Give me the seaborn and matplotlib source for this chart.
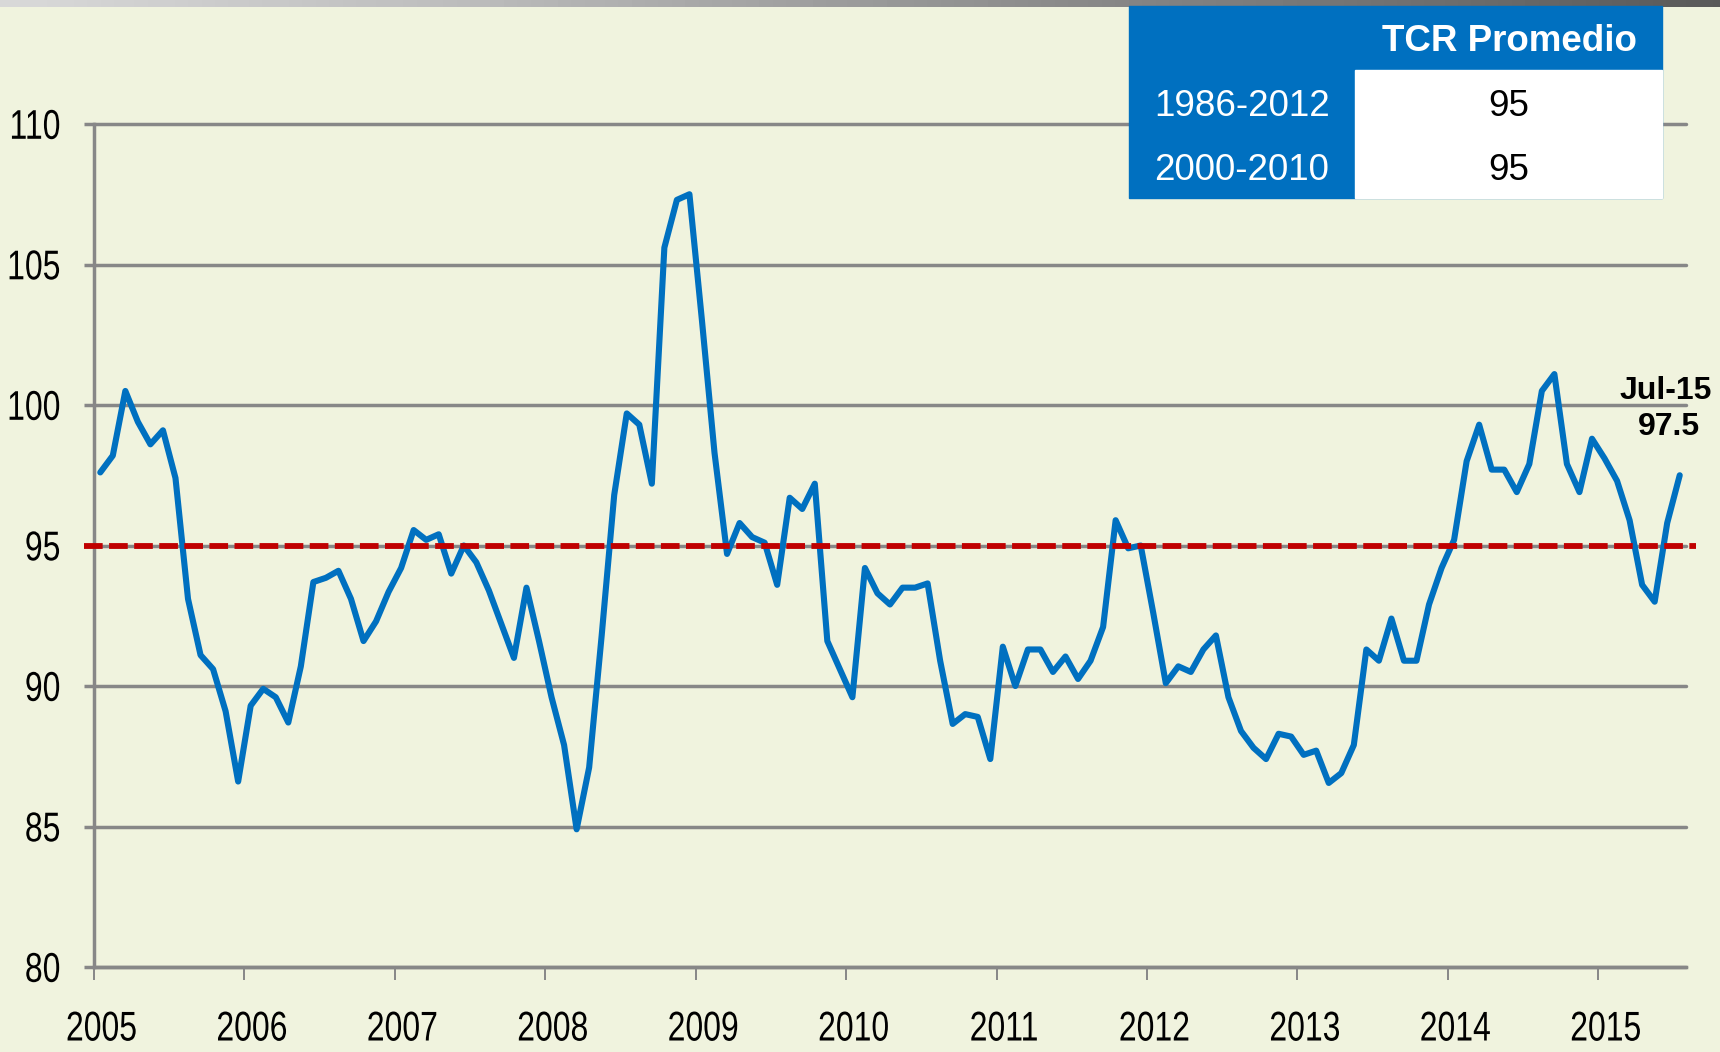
import numpy as np
import pandas as pd
import matplotlib
matplotlib.use("Agg")
import matplotlib.pyplot as plt
import seaborn as sns
from matplotlib.patches import Rectangle
from matplotlib.patheffects import AbstractPathEffect
from matplotlib.transforms import Affine2D

# TCR mensual, ene-2005 a jul-2015
tcr_2005 = [97.6, 98.2, 100.5, 99.4, 98.6, 99.1, 97.4, 93.1, 91.1, 90.6, 89.1, 86.6]
tcr_2006 = [89.3, 89.9, 89.6, 88.7, 90.7, 93.7, 93.85, 94.1, 93.1, 91.6, 92.3, 93.35]
tcr_2007 = [94.2, 95.55, 95.2, 95.4, 94.0, 95.0, 94.4, 93.4, 92.2, 91.0, 93.5, 91.6]
tcr_2008 = [89.6, 87.9, 84.9, 87.1, 91.8, 96.8, 99.7, 99.3, 97.2, 105.6, 107.3, 107.5]
tcr_2009 = [103.0, 98.3, 94.7, 95.8, 95.3, 95.1, 93.6, 96.7, 96.3, 97.2, 91.6, 90.6]
tcr_2010 = [89.6, 94.2, 93.3, 92.9, 93.5, 93.5, 93.65, 90.9, 88.65, 89.0, 88.9, 87.4]
tcr_2011 = [91.4, 90.0, 91.3, 91.3, 90.5, 91.05, 90.25, 90.9, 92.1, 95.9, 94.9, 95.0]
tcr_2012 = [92.6, 90.1, 90.7, 90.5, 91.3, 91.8, 89.6, 88.4, 87.8, 87.4, 88.3, 88.2]
tcr_2013 = [87.55, 87.7, 86.55, 86.9, 87.9, 91.3, 90.9, 92.4, 90.9, 90.9, 92.9, 94.2]
tcr_2014 = [95.2, 98.0, 99.3, 97.7, 97.7, 96.9, 97.9, 100.5, 101.1, 97.9, 96.9, 98.8]
tcr_2015 = [98.1, 97.3, 95.9, 93.6, 93.0, 95.8, 97.5]

years = list(range(2005, 2016))
avg_periods = ["1986-2012", "2000-2010"]
avg_values = [95, 95]
last_label = "Jul-15"

tcr = (tcr_2005 + tcr_2006 + tcr_2007 + tcr_2008 + tcr_2009 + tcr_2010
       + tcr_2011 + tcr_2012 + tcr_2013 + tcr_2014 + tcr_2015)
df = pd.DataFrame({"mes": np.arange(len(tcr)) + 0.5, "tcr": tcr})


class Stretch(AbstractPathEffect):
    # alarga el texto en vertical (imita la fuente estrecha del original)
    def __init__(self, sx=1.0, sy=1.0):
        super().__init__()
        self.sx = sx
        self.sy = sy

    def draw_path(self, renderer, gc, tpath, affine, rgbFace=None):
        v = tpath.vertices
        if len(v) == 0:
            return
        cx = v[:, 0].max()
        cy = (v[:, 1].min() + v[:, 1].max()) / 2
        t = Affine2D().translate(-cx, -cy).scale(self.sx, self.sy).translate(cx, cy)
        renderer.draw_path(gc, tpath, t + affine, rgbFace)


sns.set_theme(style="white")
arial = ["Liberation Sans", "DejaVu Sans"]
plt.rcParams["font.family"] = arial

bg = "#F0F3DE"
grey = "#878787"
blue = "#0070C0"
W, H = 1720, 1052

fig = plt.figure(figsize=(W / 100, H / 100), dpi=100, facecolor=bg)
ax = fig.add_axes([94 / W, 85 / H, 1592 / W, 843 / H])
ax.set_facecolor(bg)

sns.lineplot(data=df, x="mes", y="tcr", color=blue, lw=4.4, ax=ax, zorder=3)
ax.axhline(avg_values[0], xmin=-0.006, xmax=1.006, color="#C00000", lw=4.2,
           ls=(0, (3.2, 1.1)), clip_on=False, zorder=4)

ax.set_ylim(80, 110)
ax.set_yticks(range(80, 111, 5))
ax.yaxis.grid(True, color=grey, lw=2.5)
for gl in ax.get_ygridlines():
    gl.set_clip_on(False)
ax.xaxis.grid(False)
ax.tick_params(axis="y", left=True, length=7.2, width=2.5, color=grey, pad=17,
               labelsize=23, labelcolor="black")

ax.set_xlim(0, 127)
ax.set_xticks([12 * k for k in range(len(years))], minor=True)
ax.set_xticks([12 * k + 0.6 for k in range(len(years))])
ax.set_xticklabels([str(y) for y in years])
ax.tick_params(axis="x", which="major", bottom=True, length=0, pad=34,
               labelsize=23, labelcolor="black")
ax.tick_params(axis="x", which="minor", bottom=True, length=9, width=1.4, color=grey)
ax.set_xlabel("")
ax.set_ylabel("")

for lbl in ax.get_yticklabels() + ax.get_xticklabels():
    lbl.set_path_effects([Stretch(1.0, 1.3)])

for s in ["top", "right"]:
    ax.spines[s].set_visible(False)
for s in ["left", "bottom"]:
    ax.spines[s].set_color(grey)
    ax.spines[s].set_linewidth(2.5)

# etiqueta del ultimo dato
ax.annotate(last_label, xy=(df["mes"].iloc[-1], tcr[-1]), xytext=(-10, 55),
            textcoords="offset points", ha="center", va="baseline",
            fontsize=23, fontweight="bold", color="black", annotation_clip=False)
ax.annotate(f"{tcr[-1]:.1f}", xy=(df["mes"].iloc[-1], tcr[-1]), xytext=(-8, 29),
            textcoords="offset points", ha="center", va="baseline",
            fontsize=23, fontweight="bold", color="black", annotation_clip=False)

# tabla TCR promedio
def fx(px):
    return px / W

def fy(py):
    return 1 - py / H

fig.patches.append(Rectangle((fx(1129), fy(198)), fx(1662) - fx(1129), fy(6) - fy(198),
                             transform=fig.transFigure, color=blue, zorder=5))
fig.patches.append(Rectangle((fx(1355), fy(198)), fx(1662) - fx(1355), fy(70) - fy(198),
                             transform=fig.transFigure, color="white", zorder=6))
fig.text(fx(1509), fy(51), "TCR Promedio", ha="center", va="baseline", fontsize=26.5,
         fontweight="bold", color="white", zorder=7)
for k, (per, val) in enumerate(zip(avg_periods, avg_values)):
    base = 116 + 64 * k
    fig.text(fx(1242), fy(base), per, ha="center", va="baseline", fontsize=26.5,
             color="white", zorder=7)
    fig.text(fx(1509), fy(base), str(val), ha="center", va="baseline", fontsize=26.5,
             color="black", zorder=7)

# barra gris superior
bar = fig.add_axes([0, 1 - 7 / H, 1, 7 / H])
bar.imshow(np.linspace(0.25, 0.72, 256)[None, :], aspect="auto", cmap="Greys",
           vmin=0, vmax=1)
bar.set_axis_off()

fig.savefig("out.png", dpi=100, facecolor=bg)
